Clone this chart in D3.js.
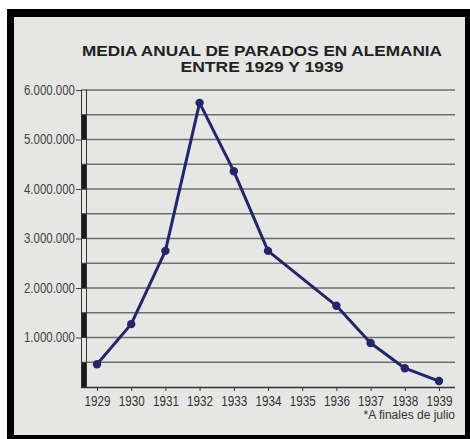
<!DOCTYPE html>
<html><head><meta charset="utf-8">
<script src="https://cdn.jsdelivr.net/npm/d3@7"></script>
<style>html,body{margin:0;padding:0;background:#fff;}svg{display:block;}</style>
</head><body>
<svg id="c" width="470" height="439"></svg>
<script>
const titleLines = ["MEDIA ANUAL DE PARADOS EN ALEMANIA", "ENTRE 1929 Y 1939"];
const years = [1929, 1930, 1931, 1932, 1933, 1934, 1936, 1937, 1938, 1939];
const parados = [460000, 1270000, 2750000, 5740000, 4360000, 2750000, 1640000, 890000, 380000, 120000];
const yearTicks = [1929, 1930, 1931, 1932, 1933, 1934, 1935, 1936, 1937, 1938, 1939];
const yTicks = [1000000, 2000000, 3000000, 4000000, 5000000, 6000000];
const gridValues = [500000, 1000000, 1500000, 2000000, 2500000, 3000000, 3500000, 4000000, 4500000, 5000000, 5500000, 6000000];
const footnote = "*A finales de julio";

const svg = d3.select("#c");
// frame
svg.append("rect").attr("x", 7).attr("y", 9).attr("width", 463).attr("height", 430).attr("fill", "#000");
svg.append("rect").attr("x", 14).attr("y", 17).attr("width", 451).attr("height", 418).attr("fill", "#e6e6e4");

const x = d3.scaleLinear().domain([1929, 1939]).range([97, 439]);
const y = d3.scaleLinear().domain([0, 6000000]).range([387, 90]);
const loc = d3.formatLocale({decimal: ",", thousands: ".", grouping: [3], currency: ["", ""]});
const fmt = loc.format(",d");

// title
const titleLen = [360, 163];
svg.append("g").selectAll("text").data(titleLines).join("text")
  .attr("x", 262).attr("y", (d, i) => 55.5 + i * 16.5)
  .attr("text-anchor", "middle")
  .attr("font-family", "Liberation Sans, Arial, sans-serif")
  .attr("font-weight", "bold").attr("font-size", 15.5)
  .attr("textLength", (d, i) => titleLen[i]).attr("lengthAdjust", "spacingAndGlyphs")
  .attr("fill", "#222").text(d => d);

// gridlines
svg.append("g").selectAll("line").data(gridValues).join("line")
  .attr("x1", 86).attr("x2", 455)
  .attr("y1", d => y(d)).attr("y2", d => y(d))
  .attr("stroke", "#6e6e6e").attr("stroke-width", 1.4);

// axis scale bar (alternating segments)
const segs = d3.range(12).map(i => [i * 500000, (i + 1) * 500000, i]);
svg.append("g").selectAll("rect").data(segs).join("rect")
  .attr("x", 81.5).attr("width", 5)
  .attr("y", d => y(d[1])).attr("height", d => y(d[0]) - y(d[1]))
  .attr("fill", d => d[2] % 2 === 0 ? "#1a1a1a" : "#e6e6e4")
  .attr("stroke", "#333").attr("stroke-width", 1);

// y axis labels
const yAxis = d3.axisLeft(y).tickValues(yTicks).tickFormat(fmt).tickSize(6).tickPadding(1);
const gy = svg.append("g").attr("transform", "translate(82,0)").call(yAxis);
gy.select(".domain").remove();
gy.selectAll("line").attr("stroke", "#444");
gy.selectAll("text").attr("font-family", "Liberation Sans, Arial, sans-serif")
  .attr("font-size", 14).attr("fill", "#444")
  .attr("textLength", 51).attr("lengthAdjust", "spacingAndGlyphs");

// x axis
const xAxis = d3.axisBottom(x).tickValues(yearTicks).tickFormat(d3.format("d")).tickSize(4).tickPadding(4).tickSizeOuter(0);
const gx = svg.append("g").attr("transform", "translate(0,387)").call(xAxis);
gx.select(".domain").attr("d", "M81,0.5H455").attr("stroke", "#333").attr("stroke-width", 1.5);
gx.selectAll("line").attr("stroke", "#333");
gx.selectAll("text").attr("font-family", "Liberation Sans, Arial, sans-serif")
  .attr("font-size", 15).attr("fill", "#333")
  .attr("textLength", 26).attr("lengthAdjust", "spacingAndGlyphs");

// line
const pts = years.map((yr, i) => [yr, parados[i]]);
svg.append("path").datum(pts)
  .attr("d", d3.line().x(d => x(d[0])).y(d => y(d[1])))
  .attr("fill", "none").attr("stroke", "#25256b").attr("stroke-width", 3)
  .attr("stroke-linejoin", "round");
svg.append("g").selectAll("circle").data(pts).join("circle")
  .attr("cx", d => x(d[0])).attr("cy", d => y(d[1])).attr("r", 4.2)
  .attr("fill", "#25256b");

// footnote
svg.append("text").attr("x", 455).attr("y", 419).attr("text-anchor", "end")
  .attr("font-family", "Liberation Sans, Arial, sans-serif").attr("font-size", 12)
  .attr("fill", "#333").text(footnote);
</script>
</body></html>
